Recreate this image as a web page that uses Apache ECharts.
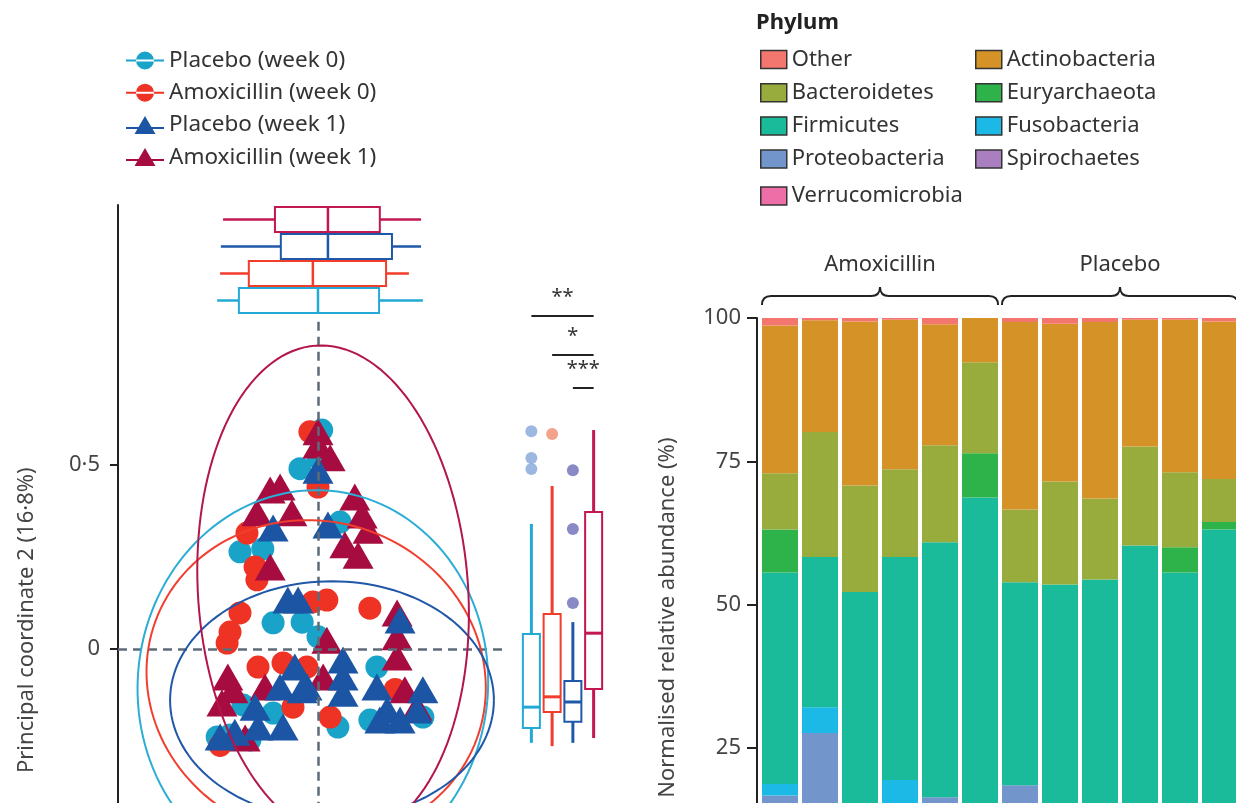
<!DOCTYPE html>
<html><head><meta charset="utf-8">
<script src="https://cdn.jsdelivr.net/npm/echarts@6/dist/echarts.min.js"></script>
<style>html,body{margin:0;padding:0;background:#fff}#c{width:1236px;height:803px}</style>
</head><body><div id="c"></div>
<script>
// ---------- PCoA panel data ----------
const groupNames = ['Placebo (week 0)', 'Amoxicillin (week 0)', 'Placebo (week 1)', 'Amoxicillin (week 1)'];
const placeboW0 = [[0.01,0.595],[0.0,0.52],[-0.049,0.49],[0.06,0.345],[-0.212,0.264],[-0.15,0.272],[-0.122,0.071],[-0.043,0.073],[0.0,0.033],[0.16,-0.049],[-0.204,-0.152],[-0.122,-0.174],[-0.274,-0.239],[0.054,-0.212],[0.141,-0.193],[0.285,-0.185],[-0.239,-0.234],[-0.185,-0.247]];
const amoxW0 = [[-0.022,0.59],[0.0,0.44],[-0.193,0.315],[-0.171,0.223],[-0.166,0.188],[-0.212,0.098],[-0.239,0.046],[-0.247,0.016],[-0.014,0.128],[0.024,0.133],[0.141,0.111],[-0.163,-0.049],[-0.095,-0.038],[-0.03,-0.049],[-0.068,-0.158],[0.033,-0.185],[-0.266,-0.262],[0.21,-0.11]];
const placeboW1 = [[0.0,0.486],[-0.122,0.329],[0.027,0.337],[-0.082,0.133],[-0.054,0.133],[0.223,0.079],[-0.063,-0.049],[-0.103,-0.103],[-0.043,-0.111],[0.068,-0.03],[0.068,-0.076],[0.068,-0.12],[-0.03,-0.103],[0.16,-0.103],[-0.171,-0.158],[-0.226,-0.226],[-0.266,-0.239],[-0.163,-0.212],[-0.095,-0.212],[0.285,-0.111],[0.188,-0.166],[0.223,-0.193],[0.269,-0.166],[0.168,-0.193]];
const amoxW1 = [[0.0,0.59],[0.0,0.554],[0.033,0.52],[0.1,0.413],[0.12,0.364],[0.136,0.323],[0.073,0.283],[0.109,0.255],[-0.13,0.432],[-0.103,0.44],[-0.166,0.37],[-0.071,0.37],[-0.13,0.223],[0.024,0.024],[0.215,0.098],[0.215,0.033],[0.215,-0.022],[-0.245,-0.076],[-0.231,-0.111],[-0.261,-0.147],[-0.144,-0.103],[0.014,-0.076],[0.269,-0.158],[0.236,-0.111],[-0.198,-0.242]];
// ellipses: centre x, centre y, semi-axis x, semi-axis y, rotation (deg)
const ellipsePlaceboW0 = [-0.014, -0.098, 0.476, 0.53, -5];
const ellipseAmoxW0 = [-0.005, -0.084, 0.465, 0.43, -20];
const ellipsePlaceboW1 = [0.038, -0.139, 0.44, 0.323, 0];
const ellipseAmoxW1 = [0.041, 0.155, 0.367, 0.671, 4];
// PC1 boxplots (min, q1, median, q3, max)
const pc1Box = [[-0.274,-0.215,0.0,0.166,0.285],[-0.266,-0.188,-0.014,0.185,0.247],[-0.264,-0.101,0.027,0.201,0.28],[-0.258,-0.117,0.027,0.168,0.28]];
// PC2 boxplots
const pc2Box = [[-0.255,-0.215,-0.158,0.041,0.34],[-0.264,-0.171,-0.13,0.095,0.443],[-0.255,-0.198,-0.144,-0.087,0.073],[-0.242,-0.109,0.043,0.372,0.595]];
const pc2Outliers = [[0,0.592],[0,0.519],[0,0.489],[1,0.584],[2,0.486],[2,0.326],[2,0.125]];
const sigBrackets = [[0,3,0.905,'**'],[1,3,0.799,'*'],[2,3,0.709,'***']];
const pc2Ticks = [0, 0.5];

// ---------- Phylum bar data ----------
const samples = ['A1','A2','A3','A4','A5','A6','P1','P2','P3','P4','P5','P6'];
const treatmentGroups = [['Amoxicillin',0,5],['Placebo',6,11]];
const other          = [1.3,0.4,0.6,0.3,1.1,0,0.7,1.0,0.7,0.3,0.3,0.6];
const actinobacteria = [25.8,19.5,28.6,26.1,21.1,7.7,32.7,27.5,30.8,22.1,26.6,27.5];
const bacteroidetes  = [9.8,21.8,18.6,15.3,16.9,15.9,12.7,18.0,14.1,17.3,13.1,7.5];
const euryarchaeota  = [7.5,0,0,0,0,7.7,0,0,0,0,4.4,1.3];
const firmicutes     = [36.9,26.2,52.2,38.9,44.5,68.7,35.4,53.5,54.4,60.3,55.6,63.1];
const fusobacteria   = [2.0,4.5,0,19.4,0,0,0,0,0,0,0,0];
const proteobacteria = [16.7,27.6,0,0,16.4,0,18.5,0,0,0,0,0];
const spirochaetes   = [0,0,0,0,0,0,0,0,0,0,0,0];
const verrucomicrobia= [0,0,0,0,0,0,0,0,0,0,0,0];

// ---------- styling ----------
const FONT = "'Noto Sans', sans-serif";
const TXT = '#333';
const groupColors = ['#19a3c9','#ee3324','#1b55a4','#a60c40'];
const ellipseColors = ['#2badd6','#f13f2f','#2057a8','#b3154d'];
const boxColors = ['#22a9d6','#f23d2c','#1f58a8','#c3174f'];
const outlierColors = ['#84a6d8','#f38b6e','#6b6cb6'];
const phylumColors = {
  'Other':'#f3766f','Actinobacteria':'#d59327','Bacteroidetes':'#97ac3c','Euryarchaeota':'#2eb34b',
  'Firmicutes':'#1abb9b','Fusobacteria':'#1db9e6','Proteobacteria':'#7295cb','Spirochaetes':'#a97fbf','Verrucomicrobia':'#ee6ea8'
};
const Y_MIN = -1.05, Y_MAX = 1.2065, X_MIN = -0.5435, X_MAX = 0.5435;

const circleIcon = 'path://M0,8.5H38V10.5H0Z M10,9.5A9,9 0 1,0 28,9.5A9,9 0 1,0 10,9.5Z';
const triIcon = 'path://M0,11.5H38V13.5H0Z M19,0.5L29.5,18.5H8.5Z';

function boxRender(horizontal, halfW, colors, lw) {
  return function (params, api) {
    const cat = api.value(0);
    const v = [api.value(1), api.value(2), api.value(3), api.value(4), api.value(5)];
    const P = horizontal
      ? (val, off) => { const c = api.coord([val, cat]); return [c[0], c[1] + off]; }
      : (val, off) => { const c = api.coord([cat, val]); return [c[0] + off, c[1]]; };
    const col = colors[params.dataIndex];
    const line = (a, b) => ({ type: 'line', shape: { x1: a[0], y1: a[1], x2: b[0], y2: b[1] }, style: { stroke: col, lineWidth: lw } });
    const a = P(v[1], -halfW), b = P(v[3], halfW);
    return { type: 'group', children: [
      line(P(v[0], 0), P(v[1], 0)),
      line(P(v[3], 0), P(v[4], 0)),
      { type: 'rect', shape: { x: Math.min(a[0], b[0]), y: Math.min(a[1], b[1]), width: Math.abs(b[0] - a[0]), height: Math.abs(b[1] - a[1]) }, style: { stroke: col, lineWidth: 2, fill: '#fff' } },
      line(P(v[2], -halfW), P(v[2], halfW))
    ] };
  };
}

const ellipses = [ellipsePlaceboW0, ellipseAmoxW0, ellipsePlaceboW1, ellipseAmoxW1];
const pointSets = [placeboW0, amoxW0, placeboW1, amoxW1];
const drawOrder = [0, 1, 3, 2];

const series = [];
// dashed reference lines
series.push({
  type: 'scatter', xAxisIndex: 0, yAxisIndex: 0, data: [], z: 1, silent: true,
  markLine: { symbol: 'none', silent: true, label: { show: false },
    lineStyle: { type: [9, 6], color: '#5c6b78', width: 2.5 },
    data: [
      [{ coord: [0, 0.889] }, { coord: [0, Y_MIN] }],
      [{ coord: [X_MIN, 0] }, { coord: [0.51, 0] }]
    ] }
});
drawOrder.forEach(g => {
  series.push({
    name: groupNames[g], type: 'scatter', xAxisIndex: 0, yAxisIndex: 0, z: 2,
    symbol: g < 2 ? 'circle' : 'triangle',
    symbolSize: g < 2 ? 23 : [31, 27],
    itemStyle: { color: groupColors[g], opacity: 1 },
    data: pointSets[g]
  });
});
series.push({
  type: 'custom', xAxisIndex: 0, yAxisIndex: 0, z: 5, silent: true,
  encode: { x: 0, y: 1 },
  data: ellipses,
  renderItem: function (params, api) {
    const cx = api.value(0), cy = api.value(1), rx = api.value(2), ry = api.value(3), a = api.value(4) * Math.PI / 180;
    const pts = [];
    for (let k = 0; k <= 144; k++) {
      const t = k / 144 * 2 * Math.PI;
      const dx = rx * Math.cos(t), dy = ry * Math.sin(t);
      pts.push(api.coord([cx + dx * Math.cos(a) - dy * Math.sin(a), cy + dx * Math.sin(a) + dy * Math.cos(a)]));
    }
    return { type: 'polyline', shape: { points: pts }, style: { stroke: ellipseColors[params.dataIndex], lineWidth: 2, fill: null } };
  }
});
// PC1 boxplots (top)
series.push({
  type: 'custom', xAxisIndex: 1, yAxisIndex: 1, silent: true,
  encode: { x: [1, 2, 3, 4, 5], y: 0 },
  data: pc1Box.map((b, i) => [i].concat(b)),
  renderItem: boxRender(true, 12.5, boxColors, 2.5)
});
// PC2 boxplots (right)
series.push({
  type: 'custom', xAxisIndex: 2, yAxisIndex: 2, silent: true,
  encode: { x: 0, y: [1, 2, 3, 4, 5] },
  data: pc2Box.map((b, i) => [i].concat(b)),
  renderItem: boxRender(false, 8.5, boxColors, 3)
});
series.push({
  type: 'scatter', xAxisIndex: 2, yAxisIndex: 2, symbolSize: 12, silent: true,
  data: pc2Outliers.map(o => ({ value: o, itemStyle: { color: outlierColors[o[0]] } })),
  markLine: { symbol: 'none', silent: true,
    lineStyle: { type: 'solid', color: '#222', width: 2 },
    label: { show: true, position: 'middle', formatter: '{b}', fontSize: 20, color: TXT, fontFamily: FONT, distance: 9 },
    data: sigBrackets.map(s => [{ coord: [s[0], s[2]], name: s[3] }, { coord: [s[1], s[2]] }])
  }
});

// Bars
const stackOrder = [['Verrucomicrobia', verrucomicrobia], ['Spirochaetes', spirochaetes], ['Proteobacteria', proteobacteria],
  ['Fusobacteria', fusobacteria], ['Firmicutes', firmicutes], ['Euryarchaeota', euryarchaeota],
  ['Bacteroidetes', bacteroidetes], ['Actinobacteria', actinobacteria], ['Other', other]];
stackOrder.forEach(([name, vals]) => {
  series.push({ name, type: 'bar', stack: 'phylum', xAxisIndex: 3, yAxisIndex: 3, barWidth: 36,
    itemStyle: { color: phylumColors[name] }, data: vals });
});
series.push({
  type: 'custom', xAxisIndex: 3, yAxisIndex: 3, silent: true, z: 5,
  encode: { x: [0, 1], y: 2 },
  data: treatmentGroups.map(g => [g[1], g[2], 100]),
  renderItem: function (params, api) {
    const s = api.coord([api.value(0), api.value(2)]), e = api.coord([api.value(1), api.value(2)]);
    const hb = api.size([1, 0])[0] * 0.9 / 2;
    const x0 = s[0] - hb, x1 = e[0] + hb, top = s[1];
    const y0 = top - 22, xm = (x0 + x1) / 2;
    const d = `M${x0},${y0 + 9} Q${x0},${y0} ${x0 + 9},${y0} L${xm - 9},${y0} Q${xm},${y0} ${xm},${y0 - 9} Q${xm},${y0} ${xm + 9},${y0} L${x1 - 9},${y0} Q${x1},${y0} ${x1},${y0 + 9}`;
    return { type: 'group', children: [
      { type: 'path', shape: { pathData: d }, style: { stroke: '#222', lineWidth: 2, fill: null } },
      { type: 'text', style: { text: treatmentGroups[params.dataIndex][0], x: xm, y: top - 53, align: 'center', verticalAlign: 'middle', fontSize: 22, fill: TXT, fontFamily: FONT } }
    ] };
  }
});

const legendText = { fontSize: 22.5, color: TXT, fontFamily: FONT };
const phylumLegendText = { fontSize: 22, color: TXT, fontFamily: FONT };
const phylumLegendBase = { orient: 'vertical', top: 43.5, itemWidth: 26, itemHeight: 18, itemGap: 11.2, textStyle: phylumLegendText, selectedMode: false, icon: 'rect',
  itemStyle: { borderColor: '#333', borderWidth: 1.5 } };
const option = {
  animation: false,
  backgroundColor: '#fff',
  textStyle: { fontFamily: FONT },
  title: { text: 'Phylum', left: 751, top: 7, textStyle: { fontSize: 22, fontWeight: 'bold', color: '#222', fontFamily: FONT } },
  legend: [
    { orient: 'vertical', left: 121, top: 44, itemWidth: 38, itemHeight: 18, itemGap: 9.2, textStyle: legendText, selectedMode: false,
      data: groupNames.map((n, i) => ({ name: n, icon: i < 2 ? circleIcon : triIcon })) },
    Object.assign({}, phylumLegendBase, { left: 755, data: ['Other', 'Bacteroidetes', 'Firmicutes', 'Proteobacteria'] }),
    Object.assign({}, phylumLegendBase, { left: 755, top: 180, data: ['Verrucomicrobia'] }),
    Object.assign({}, phylumLegendBase, { left: 970, data: ['Actinobacteria', 'Euryarchaeota', 'Fusobacteria', 'Spirochaetes'] })
  ],
  grid: [
    { left: 118, top: 205, width: 400, height: 830.4, outerBoundsMode: 'none', containLabel: false },
    { left: 118, top: 206, width: 400, height: 108, outerBoundsMode: 'none', containLabel: false },
    { left: 521, top: 205, width: 83, height: 830.4, outerBoundsMode: 'none', containLabel: false },
    { left: 760, top: 318, width: 480, height: 573.3, outerBoundsMode: 'none', containLabel: false }
  ],
  xAxis: [
    { type: 'value', gridIndex: 0, min: X_MIN, max: X_MAX, show: false },
    { type: 'value', gridIndex: 1, min: X_MIN, max: X_MAX, show: false },
    { type: 'category', gridIndex: 2, data: groupNames, show: false },
    { type: 'category', gridIndex: 3, data: samples, show: false }
  ],
  yAxis: [
    { type: 'value', gridIndex: 0, min: Y_MIN, max: Y_MAX,
      axisLine: { show: true, onZero: false, lineStyle: { color: '#222', width: 2 } },
      axisTick: { show: true, length: 8, customValues: pc2Ticks, lineStyle: { color: '#222', width: 2 } },
      axisLabel: { customValues: pc2Ticks, fontSize: 22, color: '#444', margin: 18, fontFamily: FONT, formatter: v => String(v).replace('.', '·') },
      splitLine: { show: false },
      name: 'Principal coordinate 2 (16·8%)', nameLocation: 'middle', nameGap: 80,
      nameTextStyle: { fontSize: 22, color: '#444', fontFamily: FONT } },
    { type: 'category', gridIndex: 1, data: groupNames, show: false },
    { type: 'value', gridIndex: 2, min: Y_MIN, max: Y_MAX, show: false },
    { type: 'value', gridIndex: 3, min: 0, max: 100, interval: 25, offset: 3,
      axisLine: { show: true, onZero: false, lineStyle: { color: '#222', width: 2 } },
      axisTick: { show: true, length: 10, lineStyle: { color: '#222', width: 2 } },
      axisLabel: { fontSize: 22, color: '#444', margin: 16, fontFamily: FONT },
      splitLine: { show: false },
      name: 'Normalised relative abundance (%)', nameLocation: 'middle', nameGap: 78,
      nameTextStyle: { fontSize: 22, color: '#444', fontFamily: FONT, padding: [0, 26, 0, 0] } }
  ],
  series: series
};
const chart = echarts.init(document.getElementById('c'), null, { renderer: 'canvas' });
chart.setOption(option);
</script></body></html>
